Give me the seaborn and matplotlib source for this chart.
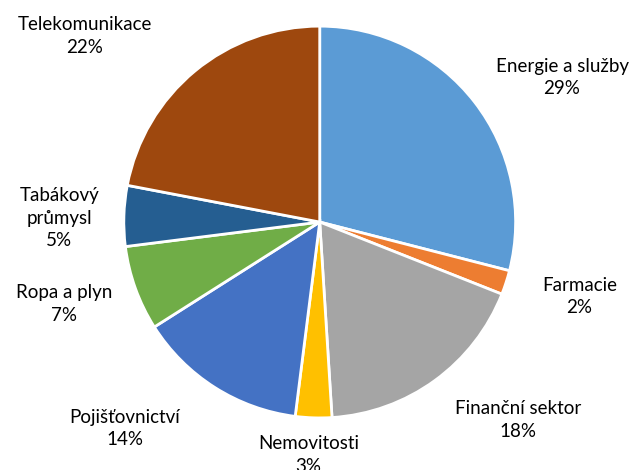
import matplotlib
matplotlib.use("Agg")
import matplotlib.pyplot as plt
import numpy as np
import seaborn as sns

sns.set_theme(style="white")
plt.rcParams['font.family'] = ['Lato', 'DejaVu Sans']

sectors = ['Energie a služby', 'Farmacie', 'Finanční sektor', 'Nemovitosti',
           'Pojišťovnictví', 'Ropa a plyn', 'Tabákový\nprůmysl', 'Telekomunikace']
shares = [29, 2, 18, 3, 14, 7, 5, 22]
colors = ['#5B9BD5', '#ED7D31', '#A5A5A5', '#FFC000',
          '#4472C4', '#70AD47', '#255E91', '#9E480E']

# label placement (radius, angle shift in degrees) per slice
label_r = [1.44, 1.38, 1.43, 1.19, 1.45, 1.37, 1.33, 1.53]
label_shift = [-7, 2, 9, -1, -11, -2, 1, 12]

fig = plt.figure(figsize=(6.35, 4.7), dpi=100)
ax = fig.add_axes([0.195, 0.1106, 0.617, 0.834])

wedges, _ = ax.pie(shares, colors=colors, startangle=90, counterclock=False,
                   wedgeprops=dict(edgecolor='white', linewidth=2))

for w, s, v, r, d in zip(wedges, sectors, shares, label_r, label_shift):
    ang = np.deg2rad((w.theta1 + w.theta2) / 2 + d)
    ax.text(r * np.cos(ang), r * np.sin(ang), f'{s}\n{v}%',
            ha='center', va='center', fontsize=13.5, color='#000000',
            linespacing=1.4, clip_on=False)

ax.set_xlim(-1, 1)
ax.set_ylim(-1, 1)
ax.set_aspect('equal')

fig.savefig('out.png', dpi=100)
